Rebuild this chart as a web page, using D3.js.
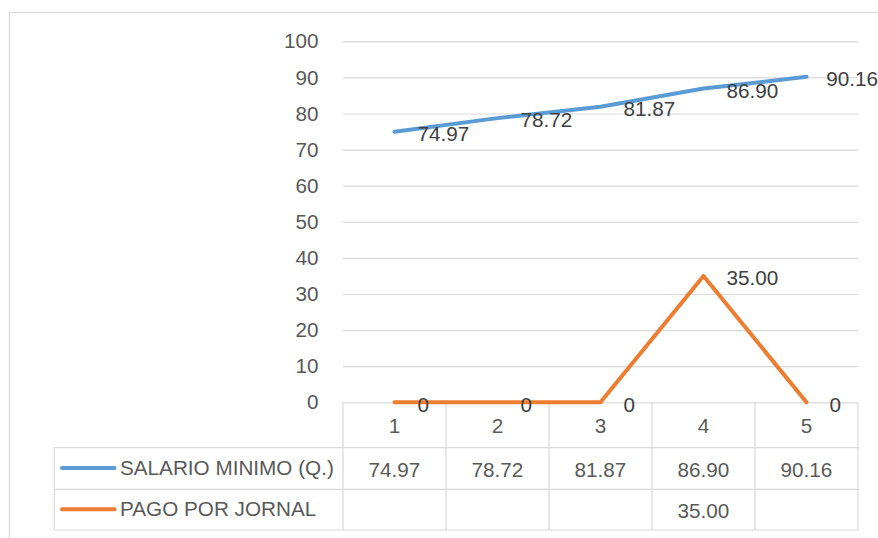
<!DOCTYPE html>
<html><head><meta charset="utf-8">
<script src="https://cdn.jsdelivr.net/npm/d3@7"></script>
<style>
html,body{margin:0;padding:0;background:#fff;}
svg{display:block;font-family:"Liberation Sans",Arial,sans-serif;}
</style></head>
<body>
<svg id="chart" width="878" height="538"></svg>
<script>
const categories = ["1", "2", "3", "4", "5"];
const seriesNames = ["SALARIO MINIMO (Q.)", "PAGO POR JORNAL"];
const salarioMinimo = [74.97, 78.72, 81.87, 86.90, 90.16];
const pagoPorJornal = [0, 0, 0, 35.00, 0];
const pagoTabla = [null, null, null, 35.00, null];
const yTicks = [0, 10, 20, 30, 40, 50, 60, 70, 80, 90, 100];
const colors = ["#5B9BD5", "#ED7D31"];

const W = 878, H = 538;
const FS = 20.7;
const svg = d3.select("#chart");
const plotL = 343, plotR = 858, plotT = 41.3, plotB = 402.3;
const tableRows = [447.7, 489.3, 530];
const tableLeft = 54.3;
const grid = "#d9d9d9";

// outer chart border
svg.append("rect").attr("x", 9.5).attr("y", 12.5).attr("width", 900).attr("height", 600)
  .attr("fill", "none").attr("stroke", grid).attr("stroke-width", 1.3);

const x = d3.scaleBand().domain(categories).range([plotL, plotR]);
const y = d3.scaleLinear().domain([0, 100]).range([plotB, plotT]);
const cx = c => x(c) + x.bandwidth() / 2;

// gridlines
const gGrid = svg.append("g").attr("transform", `translate(${plotL},0)`)
  .call(d3.axisLeft(y).tickValues(yTicks).tickSize(-(plotR - plotL)).tickFormat(""));
gGrid.select(".domain").remove();
gGrid.selectAll("line").attr("stroke", grid).attr("stroke-width", 1.2);

// y tick labels
const gY = svg.append("g").attr("transform", `translate(${plotL},0)`)
  .call(d3.axisLeft(y).tickValues(yTicks).tickSize(0).tickPadding(24.5).tickFormat(d3.format("d")));
gY.select(".domain").remove();
gY.selectAll("text").attr("font-size", FS).attr("fill", "#595959")
  .attr("font-family", "'Liberation Sans',Arial,sans-serif");

// data table grid
const tg = svg.append("g").attr("stroke", grid).attr("stroke-width", 1.2).attr("fill", "none");
tableRows.forEach(ry => {
  tg.append("line").attr("x1", tableLeft).attr("x2", plotR).attr("y1", ry).attr("y2", ry);
});
tg.append("line").attr("x1", tableLeft).attr("x2", tableLeft).attr("y1", tableRows[0]).attr("y2", tableRows[2]);
[plotL].concat(categories.map(c => x(c) + x.bandwidth())).forEach(vx => {
  tg.append("line").attr("x1", vx).attr("x2", vx).attr("y1", plotB).attr("y2", tableRows[2]);
});

// category labels
svg.append("g").selectAll("text").data(categories).join("text")
  .attr("x", d => cx(d)).attr("y", 426).attr("dy", "0.35em")
  .attr("text-anchor", "middle").attr("font-size", FS).attr("fill", "#595959").text(d => d);

// table values
const fmt = d3.format(".2f");
const tableData = [salarioMinimo, pagoTabla];
tableData.forEach((vals, r) => {
  const ry = (tableRows[r] + tableRows[r + 1]) / 2;
  svg.append("g").selectAll("text").data(vals).join("text")
    .attr("x", (d, i) => cx(categories[i])).attr("y", ry + 1).attr("dy", "0.35em")
    .attr("text-anchor", "middle").attr("font-size", FS).attr("fill", "#595959")
    .text(d => d == null ? "" : fmt(d));
  // legend key
  svg.append("line").attr("x1", 62).attr("x2", 114.5).attr("y1", ry - 0.5).attr("y2", ry - 0.5)
    .attr("stroke", colors[r]).attr("stroke-width", 4).attr("stroke-linecap", "round");
  svg.append("text").attr("x", 120).attr("y", ry - 0.5).attr("dy", "0.35em")
    .attr("font-size", FS).attr("fill", "#595959").text(seriesNames[r]);
});

// lines
const line = d3.line().x((d, i) => cx(categories[i])).y(d => y(d));
[salarioMinimo, pagoPorJornal].forEach((vals, s) => {
  svg.append("path").datum(vals).attr("d", line).attr("fill", "none")
    .attr("stroke", colors[s]).attr("stroke-width", 4)
    .attr("stroke-linejoin", "round").attr("stroke-linecap", "round");
});

// data labels (right of point, kept inside chart area)
[salarioMinimo, pagoPorJornal].forEach((vals, s) => {
  const g = svg.append("g");
  vals.forEach((v, i) => {
    const t = g.append("text").attr("y", y(v) + 2).attr("dy", "0.35em")
      .attr("font-size", FS).attr("fill", "#404040")
      .text(v === 0 ? "0" : fmt(v));
    const w = t.node().getComputedTextLength();
    t.attr("x", Math.min(cx(categories[i]) + 23, W - w));
  });
});
</script>
</body></html>
